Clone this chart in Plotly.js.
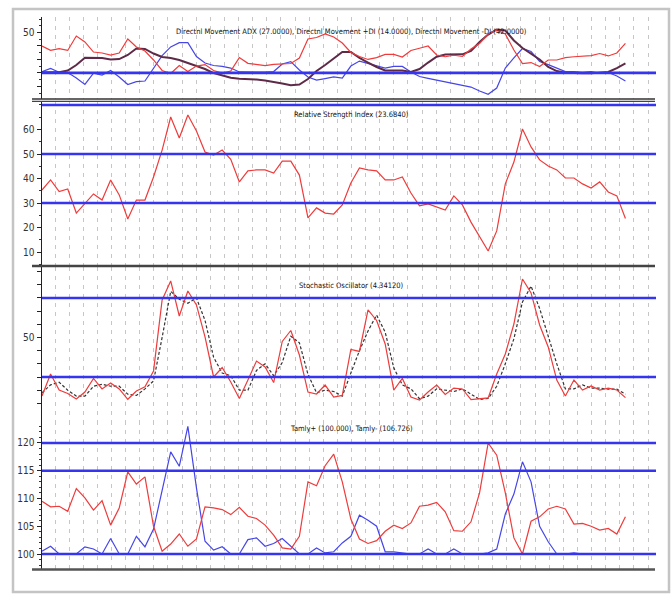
<!DOCTYPE html>
<html>
<head>
<meta charset="utf-8">
<script src="https://cdn.plot.ly/plotly-3.0.1.min.js"></script>
<style>html,body{margin:0;padding:0;background:#fff;}#chart{width:672px;height:596px;}</style>
</head>
<body>
<div id="chart"></div>
<script>
// sample index (every 3rd bar)
const bars = Array.from({length: 69}, (_, i) => i * 3);

// Directional Movement panel
const dmiMinus = [40.0,36.8,38.1,36.7,47.4,43.0,35.5,34.8,33.3,34.8, 45.2,39.3,36.3,29.6,21.8,19.6,25.5,21.0,25.1,26.2, 21.8,19.9,21.4,31.4,27.1,26.4,25.4,26.4,26.6,27.0, 31.1,45.2,46.3,48.9,46.7,42.2,35.2,32.2,30.0,31.4, 33.7,33.7,31.8,36.7,38.3,40.0,33.3,32.0,33.1,32.2, 37.8,41.9,48.9,51.9,48.9,37.0,27.0,27.7,24.8,29.6, 29.6,31.4,32.0,32.6,32.9,34.4,32.6,34.8,42.0];
const dmiAdx = [20.5,20.5,20.5,21.8,25.9,31.3,31.3,31.1,30.0,30.3, 33.3,38.1,37.8,34.4,31.8,31.1,29.6,27.4,25.5,22.9, 19.9,18.1,16.4,15.7,15.5,15.1,14.4,13.5,12.1,10.8, 11.4,15.5,21.4,25.9,30.7,35.5,35.5,31.1,27.7,24.4, 21.8,21.8,21.8,20.7,22.9,27.7,32.0,33.7,33.8,33.8, 36.3,43.0,48.5,52.3,51.5,44.1,38.5,34.0,30.0,24.4, 21.4,20.2,19.7,19.7,19.7,20.1,20.7,23.6,27.0];
const dmiPlus = [20.9,23.3,20.5,20.3,16.2,11.5,19.9,18.4,21.8,17.0, 11.4,13.5,14.0,23.6,32.8,39.3,42.5,42.5,32.2,27.4, 25.5,24.9,23.6,20.7,20.5,20.5,20.6,21.0,26.6,28.4, 22.2,17.0,14.7,15.8,17.0,16.2,25.1,28.8,27.0,25.1, 23.6,24.8,24.8,20.7,17.3,16.0,14.7,12.9,11.8,10.6, 9.5,6.6,4.1,8.8,23.6,31.1,38.1,35.9,28.5,26.2, 23.3,21.0,21.0,20.5,21.0,19.8,20.3,17.7,14.0];

// Relative Strength Index panel
const rsi = [35.3,39.4,34.7,35.7,25.9,29.6,33.7,31.2,39.4,33.3, 23.5,31.2,31.2,40.6,51.6,65.1,56.5,65.9,59.4,50.8, 49.6,51.6,47.8,38.6,43.1,43.5,43.5,42.2,47.1,47.1, 41.4,23.9,28.0,25.9,25.5,29.2,38.2,44.3,43.5,43.1, 39.4,39.4,40.6,34.1,28.8,29.6,28.4,27.1,32.9,29.2, 22.2,16.1,10.4,18.6,37.8,46.7,60.2,52.9,47.6,45.1, 43.5,40.2,40.2,37.8,36.1,38.6,34.5,32.9,23.7];

// Stochastic Oscillator panel
const stochK = [5.6,22.3,10.1,7.5,3.3,8.6,18.9,10.9,15.4,10.9, 3.1,9.4,12.6,24.6,78.5,92.9,66.3,85.3,74.7,50.4, 20.0,27.2,16.2,3.7,17.7,32.1,27.6,15.8,47.0,55.3, 36.7,8.6,7.1,13.9,4.8,6.0,40.9,39.4,70.9,62.9, 45.1,10.1,18.9,4.8,2.5,8.6,13.9,6.7,11.6,10.9, 2.9,3.3,4.1,22.3,37.5,60.2,94.4,83.8,59.5,42.8, 17.7,5.6,17.7,10.1,13.2,10.1,11.6,10.1,4.34];
const stochD = [8,14,16,10,5.5,5.5,13,14.5,13,13, 7,6,11,17,50,85,79,76,80,63, 35,23,21,10,10,25,30,21,31,51, 46,22,8,10,9,5.5,23,40,55,67, 54,27,14,11,3.5,5.5,11,10,9,11, 7,3,3.7,13,30,49,77,89,72,51, 30,11,11,14,11.5,11.5,10.8,10.8,7];

// Tamly panel
const tamlyMinus = [109.5,108.5,108.6,107.7,111.8,110.1,107.9,109.6,105.2,108.3, 114.8,112.6,113.9,105.0,100.5,101.8,103.6,101.4,102.7,108.5, 108.3,108.0,107.1,108.4,106.8,106.4,105.2,103.4,101.1,100.9, 103.2,113.0,112.3,115.9,118.0,113.0,106.3,102.7,101.9,102.4, 104.1,105.2,104.6,105.6,108.6,108.8,109.3,107.6,104.2,104.1, 105.8,111.0,120.0,117.8,111.0,102.9,100.0,105.9,106.7,108.1, 108.6,108.1,105.4,105.5,105.0,104.3,104.6,103.6,106.726];
const tamlyPlus = [100.5,101.4,100,100,100,101.3,100.9,100,102.8,100, 100,103.2,101.3,104.5,111.5,118.4,115.8,123.0,111.9,102.3, 100.7,101.3,100,100,102.6,102.9,101.4,101.9,102.8,101.4, 100,100,101.1,100.2,100.4,102.0,103.2,107.0,106.1,105.0, 100.4,100.4,100.2,100,100,100.9,100,100,100.9,100, 100,100,100.2,100.9,107.2,110.8,116.6,113.0,105.0,102.2, 100,100,100.2,100,100,100,100,100,100];

// panel titles and reference levels
const titles = [
  "Directnl Movement ADX (27.0000), Directnl Movement +DI (14.0000), Directnl Movement -DI (42.0000)",
  "Relative Strength Index (23.6840)",
  "Stochastic Oscillator (4.34120)",
  "Tamly+ (100.000), Tamly- (106.726)"
];
const levels = [[20], [30, 50, 70], [20, 80], [100, 115, 120]];
const tickVals = [[10,20,30,40,50], [10,20,30,40,50,60], [0,10,20,30,40,50,60,70,80,90,100], [100,105,110,115,120]];
const tickText = [["","","","","50"], ["10","20","30","40","50","60"], ["","","","","","50","","","","",""], ["100","105","110","115","120"]];

const RED = "#ee3b3b", BLUE = "#4646e8", PURPLE = "#5e2a48", HBLUE = "#3535f0";
const FONT = "Liberation Sans Narrow, DejaVu Sans Condensed, Arial Narrow, sans-serif";

function tr(y, ax, color, width, dash) {
  return {x: bars, y: y, type: "scatter", mode: "lines", xaxis: "x" + ax, yaxis: "y" + ax,
    line: {color: color, width: width, dash: dash || "solid"}, hoverinfo: "skip", showlegend: false};
}
const data = [
  tr(dmiPlus, "", BLUE, 1.2), tr(dmiAdx, "", PURPLE, 2), tr(dmiMinus, "", RED, 1.2),
  tr(rsi, "2", RED, 1.2),
  tr(stochD, "3", "#333333", 1.2, "3px,2px"), tr(stochK, "3", RED, 1.2),
  tr(tamlyPlus, "4", BLUE, 1.2), tr(tamlyMinus, "4", RED, 1.2)
];

// pixel helpers for layout (plot area spans y 17..570, x 42..655)
const py = p => (570 - p) / 553;
const px = p => (p - 42) / 613;

const domains = [[py(99), 1], [py(266), py(101)], [py(421), py(267)], [0, py(421)]];
const ranges = [[0.62, 61.54], [4.29, 71.63], [-13.4, 103.5], [97.12, 123.96]];
const minors = [5, 5, null, 1];

const layout = {
  width: 672, height: 596,
  margin: {l: 42, r: 17, t: 17, b: 26},
  paper_bgcolor: "#ffffff", plot_bgcolor: "rgba(0,0,0,0)",
  font: {family: FONT, size: 10, color: "#333"},
  showlegend: false,
  shapes: [], annotations: []
};
const titleY = [31, 115, 285, 429];
for (let k = 0; k < 4; k++) {
  const s = k === 0 ? "" : String(k + 1);
  layout["xaxis" + s] = {domain: [0, 1], anchor: "y" + s, range: [0, 214.34],
    showgrid: true, gridcolor: "#c6c6c6", griddash: "4px,5px", gridwidth: 1,
    tick0: 4.545, dtick: 4.937, showticklabels: false, ticks: "", zeroline: false, showline: false, fixedrange: true};
  const ya = {domain: domains[k], anchor: "x" + s, range: ranges[k], tickmode: "array",
    tickvals: tickVals[k], ticktext: tickText[k], ticks: "outside", ticklen: 4, tickcolor: "#222",
    showline: true, linecolor: "#222", linewidth: 1.5, showgrid: false, zeroline: false,
    tickfont: {family: FONT, size: 10, color: "#333"}, fixedrange: true};
  if (minors[k]) ya.minor = {ticks: "outside", ticklen: 2, dtick: minors[k], tickcolor: "#333", showgrid: false};
  layout["yaxis" + s] = ya;
  levels[k].forEach(v => layout.shapes.push({type: "line", xref: "paper", yref: "y" + s,
    x0: 0, x1: px(656), y0: v, y1: v, line: {color: HBLUE, width: 2.6}, layer: "above"}));
  layout.annotations.push({text: titles[k], xref: "paper", yref: "paper", x: px(351), y: py(titleY[k]),
    xanchor: "center", yanchor: "middle", showarrow: false, font: {family: FONT, size: 7.5, color: "#111"}});
}
// panel separators
[[99, 1.6, "#333"], [101.4, 1.4, "#444"], [266, 2.4, "#444"], [569.5, 2.4, "#555"]].forEach(s =>
  layout.shapes.push({type: "line", xref: "paper", yref: "paper", x0: px(32), x1: 1, y0: py(s[0]), y1: py(s[0]),
    line: {color: s[2], width: s[1]}, layer: "above"}));
// outer frame
layout.shapes.push({type: "rect", xref: "paper", yref: "paper", x0: px(13), x1: px(669), y0: py(592), y1: py(9),
  line: {color: "#c4c4c4", width: 2.5}, layer: "below"});

Plotly.newPlot("chart", data, layout, {staticPlot: true});
</script>
</body>
</html>
